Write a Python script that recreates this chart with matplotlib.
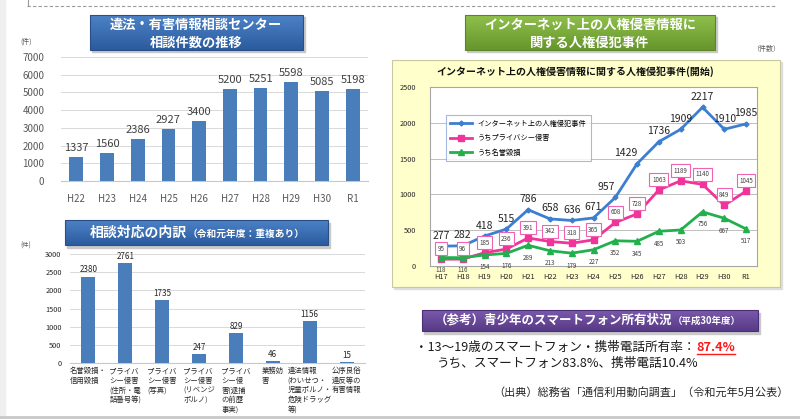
import matplotlib
matplotlib.use('Agg')
import matplotlib.pyplot as plt
import matplotlib.colors as mcolors
import numpy as np
from matplotlib.patches import Rectangle

plt.rcParams['font.family'] = ['Noto Sans CJK JP', 'DejaVu Sans']

# ---------------- data ----------------
years_a = ['H22', 'H23', 'H24', 'H25', 'H26', 'H27', 'H28', 'H29', 'H30', 'R1']
consult_counts = [1337, 1560, 2386, 2927, 3400, 5200, 5251, 5598, 5085, 5198]

breakdown_labels = [
    '名誉毀損・\n信用毀損',
    'プライバ\nシー侵害\n(住所・電\n話番号等)',
    'プライバ\nシー侵害\n(写真)',
    'プライバ\nシー侵害\n(リベンジ\nポルノ)',
    'プライバ\nシー侵\n害(逮捕\nの前歴\n事実)',
    '業務妨\n害',
    '違法情報\n(わいせつ・\n児童ポルノ・\n危険ドラッグ\n等)',
    '公序良俗\n違反等の\n有害情報',
]
breakdown_values = [2380, 2761, 1735, 247, 829, 46, 1156, 15]

years_b = ['H17', 'H18', 'H19', 'H20', 'H21', 'H22', 'H23', 'H24',
           'H25', 'H26', 'H27', 'H28', 'H29', 'H30', 'R1']
total_cases = [277, 282, 418, 515, 786, 658, 636, 671, 957, 1429, 1736, 1909, 2217, 1910, 1985]
privacy_cases = [95, 96, 185, 236, 391, 342, 318, 365, 608, 728, 1063, 1189, 1140, 849, 1045]
defamation_cases = [118, 116, 154, 176, 289, 213, 179, 227, 352, 345, 485, 503, 756, 667, 517]

series_names = ['インターネット上の人権侵犯事件', 'うちプライバシー侵害', 'うち名誉毀損']

# ---------------- figure ----------------
W, H = 800, 419
fig = plt.figure(figsize=(W / 100, H / 100), dpi=100)
fig.patch.set_facecolor('white')

ax_bg = fig.add_axes([0, 0, 1, 1])
ax_bg.set_xlim(0, W)
ax_bg.set_ylim(H, 0)
ax_bg.set_autoscale_on(False)
ax_bg.axis('off')


def add_axes_px(x0, y0, x1, y1):
    return fig.add_axes([x0 / W, 1 - y1 / H, (x1 - x0) / W, (y1 - y0) / H])


def banner(x0, y0, x1, y1, ctop, cbot, edge):
    ax_bg.add_patch(Rectangle((x0 + 2, y0 + 2.5), x1 - x0, y1 - y0,
                              color='#c9c9c9', zorder=1))
    g = np.linspace(0, 1, 60)[:, None, None]
    c1 = np.array(mcolors.to_rgb(ctop))[None, None, :]
    c2 = np.array(mcolors.to_rgb(cbot))[None, None, :]
    img = c1 * (1 - g) + c2 * g
    ax_bg.imshow(img, extent=(x0, x1, y1, y0), aspect='auto', origin='upper', zorder=2)
    ax_bg.add_patch(Rectangle((x0, y0), x1 - x0, y1 - y0, fill=False,
                              ec=edge, lw=0.8, zorder=3))


# decorations
ax_bg.add_patch(Rectangle((0, 0), 5, H, color='#efefef', zorder=0))
ax_bg.plot([27, 777], [6, 6], ls=(0, (3, 2)), color='#9a9a9a', lw=0.8)
ax_bg.plot([28, 28], [0, 6], color='#9a9a9a', lw=0.8)
ax_bg.plot([0, W], [416.5, 416.5], color='#c8c8c8', lw=2)

# ---------------- top-left chart ----------------
banner(90, 15, 303, 50, '#4d82c6', '#2b5b9f', '#2a4f86')
ax_bg.text(196, 25, '違法・有害情報相談センター', color='white', fontsize=9.5,
           fontweight='bold', ha='center', va='center', zorder=4)
ax_bg.text(196, 43, '相談件数の推移', color='white', fontsize=9.5,
           fontweight='bold', ha='center', va='center', zorder=4)
ax_bg.text(26, 42, '(件)', fontsize=5, color='#595959', ha='center', va='center')

ax1 = add_axes_px(61, 57, 368, 181)
x1 = np.arange(len(years_a))
ax1.bar(x1, consult_counts, width=0.45, color='#4a7ebb', zorder=3)
ax1.set_xlim(-0.5, len(years_a) - 0.5)
ax1.set_ylim(0, 7000)
ax1.set_yticks(range(0, 7001, 1000))
ax1.set_xticks(x1)
ax1.set_xticklabels(years_a)
ax1.tick_params(axis='both', length=0, labelsize=7, labelcolor='#595959')
ax1.tick_params(axis='y', pad=12)
ax1.tick_params(axis='x', pad=9)
ax1.grid(axis='y', color='#d9d9d9', lw=0.7, zorder=0)
for s in ['top', 'right', 'left']:
    ax1.spines[s].set_visible(False)
ax1.spines['bottom'].set_color('#c8c8c8')
for xi, v in zip(x1, consult_counts):
    ax1.annotate(str(v), (xi, v), xytext=(0, 3), textcoords='offset points',
                 ha='center', va='bottom', fontsize=8, color='#404040')

# ---------------- bottom-left chart ----------------
banner(65, 220, 328, 245, '#4d82c6', '#2b5b9f', '#2a4f86')
t_main = ax_bg.text(90, 233, '相談対応の内訳', color='white', fontsize=10,
                    fontweight='bold', ha='left', va='center', zorder=4)
ax_bg.text(26, 246, '(件)', fontsize=4.5, color='#595959', ha='center', va='center')

ax2 = add_axes_px(70, 254, 365, 363)
x2 = np.arange(len(breakdown_values))
ax2.bar(x2, breakdown_values, width=0.38, color='#4a7ebb', zorder=3)
ax2.set_xlim(-0.5, len(breakdown_values) - 0.5)
ax2.set_ylim(0, 3000)
ax2.set_yticks(range(0, 3001, 500))
ax2.set_xticks(x2)
ax2.set_xticklabels(breakdown_labels, multialignment='left', linespacing=1.25)
ax2.tick_params(axis='both', length=0, labelsize=5.3, labelcolor='#262626')
ax2.tick_params(axis='y', pad=6)
ax2.tick_params(axis='x', pad=3)
ax2.grid(axis='y', color='#d9d9d9', lw=0.7, zorder=0)
for s in ['top', 'right', 'left']:
    ax2.spines[s].set_visible(False)
ax2.spines['bottom'].set_color('#c8c8c8')
for xi, v in zip(x2, breakdown_values):
    ax2.annotate(str(v), (xi, v), xytext=(0, 1.5), textcoords='offset points',
                 ha='center', va='bottom', fontsize=5.8, color='#262626')

# ---------------- right line chart ----------------
banner(465, 15, 715, 50, '#8fc04c', '#66962c', '#5a8427')
ax_bg.text(590, 25, 'インターネット上の人権侵害情報に', color='white', fontsize=9.5,
           fontweight='bold', ha='center', va='center', zorder=4)
ax_bg.text(590, 43, '関する人権侵犯事件', color='white', fontsize=9.5,
           fontweight='bold', ha='center', va='center', zorder=4)
ax_bg.text(766, 49, '（件数）', fontsize=5, color='#595959', ha='center', va='center')

ax_bg.add_patch(Rectangle((394, 62), 388, 227, color='#dedede', zorder=0))
ax_bg.add_patch(Rectangle((392, 60), 388, 227, facecolor='#ffffcc',
                          edgecolor='#c8c8a0', lw=0.8, zorder=0.5))
ax_bg.text(575, 72, 'インターネット上の人権侵害情報に関する人権侵犯事件(開始)',
           fontsize=7.2, fontweight='bold', ha='center', va='center', color='#111111')

ax3 = add_axes_px(430, 87, 757, 266)
ax3.set_facecolor('white')
x3 = np.arange(len(years_b))
ax3.plot(x3, total_cases, color='#3c7fd0', lw=2, marker='D', ms=2.5, label=series_names[0], zorder=4)
ax3.plot(x3, privacy_cases, color='#f0349a', lw=2, marker='s', ms=5, label=series_names[1], zorder=4)
ax3.plot(x3, defamation_cases, color='#21b04b', lw=2, marker='^', ms=5, label=series_names[2], zorder=4)
ax3.set_xlim(-0.5, len(years_b) - 0.5)
ax3.set_ylim(0, 2500)
ax3.set_yticks(range(0, 2501, 500))
ax3.set_xticks(x3)
ax3.set_xticklabels(years_b)
ax3.tick_params(axis='both', length=0, labelsize=5.3, labelcolor='#262626')
ax3.tick_params(axis='y', pad=10)
ax3.tick_params(axis='x', pad=5)
ax3.grid(axis='y', color='#bfbfbf', lw=0.7, zorder=0)
for s in ax3.spines.values():
    s.set_color('#a6a6a6')
    s.set_linewidth(0.8)

for i, v in enumerate(total_cases):
    ha = 'right' if years_b[i] in ('H25', 'H26') else 'center'
    ax3.annotate(str(v), (i, v), xytext=(0, 4), textcoords='offset points',
                 ha=ha, va='bottom', fontsize=7.5, color='#262626', zorder=5)
for i, v in enumerate(privacy_cases):
    ax3.annotate(str(v), (i, v), xytext=(0, 4.5), textcoords='offset points',
                 ha='center', va='bottom', fontsize=4.5, color='#404040', zorder=6,
                 bbox=dict(boxstyle='square,pad=0.4', fc='white', ec='#f062b4', lw=0.8))
for i, v in enumerate(defamation_cases):
    ax3.annotate(str(v), (i, v), xytext=(0, -6), textcoords='offset points',
                 ha='center', va='top', fontsize=4.5, color='#404040', zorder=5)

leg = ax3.legend(loc='upper left', bbox_to_anchor=(0.037, 0.862), fontsize=5.2,
                 handlelength=3, frameon=True, fancybox=False, borderpad=0.6,
                 labelspacing=0.9)
leg.get_frame().set_edgecolor('#8fa9d6')
leg.get_frame().set_linewidth(0.8)

# ---------------- bottom-right text ----------------
banner(422, 310, 758, 331, '#7a59ab', '#573a86', '#4a2f75')
t_purple = ax_bg.text(435, 320.5, '（参考）青少年のスマートフォン所有状況', color='white',
                      fontsize=9, fontweight='bold', ha='left', va='center', zorder=4)
line1 = ax_bg.text(415, 347, '・13～19歳のスマートフォン・携帯電話所有率：', fontsize=9.1,
                   color='#1a1a1a', ha='left', va='center')
ax_bg.text(437, 363, 'うち、スマートフォン83.8%、携帯電話10.4%', fontsize=9.1,
           color='#1a1a1a', ha='left', va='center')
ax_bg.text(789, 392, '（出典）総務省「通信利用動向調査」（令和元年5月公表）', fontsize=8,
           color='#262626', ha='right', va='center')

renderer = fig.canvas.get_renderer()
bb = t_main.get_window_extent(renderer)
ax_bg.text(bb.x1, 233.5, '（令和元年度：重複あり）', color='white', fontsize=7,
           fontweight='bold', ha='left', va='center', zorder=4)
bb = t_purple.get_window_extent(renderer)
ax_bg.text(bb.x1, 321, '（平成30年度）', color='white', fontsize=6.8,
           fontweight='bold', ha='left', va='center', zorder=4)
bb = line1.get_window_extent(renderer)
red = ax_bg.text(bb.x1 + 1, 347, '87.4%', fontsize=9.1, color='#ff1a1a',
                 fontweight='bold', ha='left', va='center')
rb = red.get_window_extent(renderer)
ax_bg.plot([rb.x0, rb.x1], [354, 354], color='#ff1a1a', lw=1)

fig.savefig('out.png', dpi=100)
